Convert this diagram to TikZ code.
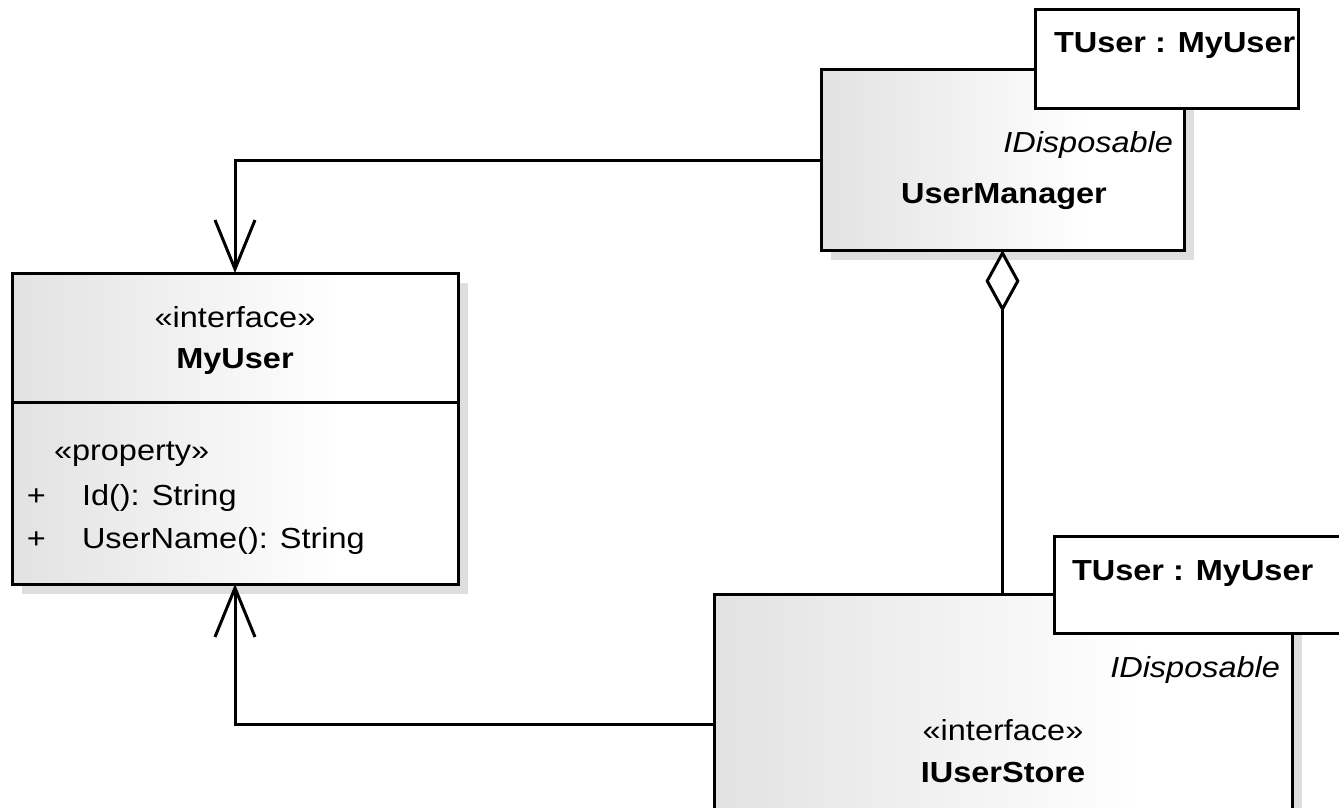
\documentclass[tikz,border=0pt]{standalone}
\usepackage{fontspec}
\setmainfont{Liberation Sans}[FakeStretch=1.12]
\usetikzlibrary{arrows.meta,backgrounds}
\definecolor{gradl}{RGB}{226,226,226}
\definecolor{shadowc}{RGB}{222,222,222}
\pgfdeclarehorizontalshading{umlshade}{100bp}{color(0bp)=(gradl); color(25bp)=(gradl); color(62bp)=(white); color(100bp)=(white)}
\begin{document}
\begin{tikzpicture}[x=1pt,y=-1pt, line width=3pt,
  cls/.style={draw=black, shade, shading=umlshade, rectangle, inner sep=0pt, outer sep=0pt},
  tbox/.style={draw=black, fill=white, rectangle, inner sep=0pt, outer sep=0pt},
  txt/.style={inner sep=0pt, outer sep=0pt, font=\fontsize{29}{34}\selectfont},
  btxt/.style={txt, font=\fontsize{29}{34}\selectfont\bfseries},
  itxt/.style={txt, font=\fontsize{29}{34}\selectfont\itshape},
  dep/.style={-{Straight Barb[length=49pt,width=40pt]}},
  agg/.style={{Diamond[fill=white,length=62pt,width=34pt]}-}]
\useasboundingbox (0,0) rectangle (1339,808);
\clip (0,0) rectangle (1339,808);

% class boxes
\node[cls, minimum width=446pt, minimum height=311pt] (mu) at (235,428.5) {};
\node[cls, minimum width=363pt, minimum height=180pt] (um) at (1002.5,160) {};
\node[cls, minimum width=578pt, minimum height=260pt] (us) at (1003,724) {};

% template parameter boxes
\node[tbox, minimum width=263pt, minimum height=98pt] (t1) at (1166.5,59) {};
\node[tbox, minimum width=291pt, minimum height=97pt] (t2) at (1199.5,584.5) {};

% compartment divider of MyUser
\draw (mu.west |- 0,402) -- (mu.east |- 0,402);

% texts of MyUser
\node[txt, anchor=base] (mus) at (235,327) {«interface»};
\node[btxt, anchor=base] (mun) at (235,368) {MyUser};
\node[txt, anchor=base west] (mup) at (54,460) {«property»};
\node[txt, anchor=base west] (mpl1) at (27,505) {+};
\node[txt, anchor=base west] (mid) at (82,505) {Id(): String};
\node[txt, anchor=base west] (mpl2) at (27,548) {+};
\node[txt, anchor=base west] (mun2) at (82,548) {UserName(): String};

% texts of UserManager
\node[btxt, anchor=base west] (t1t) at (1054,53) {TUser : MyUser};
\node[itxt, anchor=base east] (umi) at (1173,152) {IDisposable};
\node[btxt, anchor=base] (umn) at (1004,203) {UserManager};

% texts of IUserStore
\node[btxt, anchor=base west] (t2t) at (1072,580) {TUser : MyUser};
\node[itxt, anchor=base east] (usi) at (1280,677) {IDisposable};
\node[txt, anchor=base] (uss) at (1003,740) {«interface»};
\node[btxt, anchor=base] (usn) at (1003,782) {IUserStore};

% connectors
\draw[dep] (um.west) -| (mu.north);
\draw[dep] (us.west) -| (mu.south);
\draw[agg] (um.south) -- (um.south |- us.north);

% shadows and background
\begin{scope}[on background layer]
\fill[white] (0,0) rectangle (1339,808);
\fill[shadowc] ([shift={(10,10)}]mu.north west) rectangle ([shift={(10,10)}]mu.south east);
\fill[shadowc] ([shift={(10,10)}]um.north west) rectangle ([shift={(10,10)}]um.south east);
\fill[shadowc] ([shift={(10,10)}]us.north west) rectangle ([shift={(10,10)}]us.south east);
\end{scope}
\end{tikzpicture}
\end{document}
